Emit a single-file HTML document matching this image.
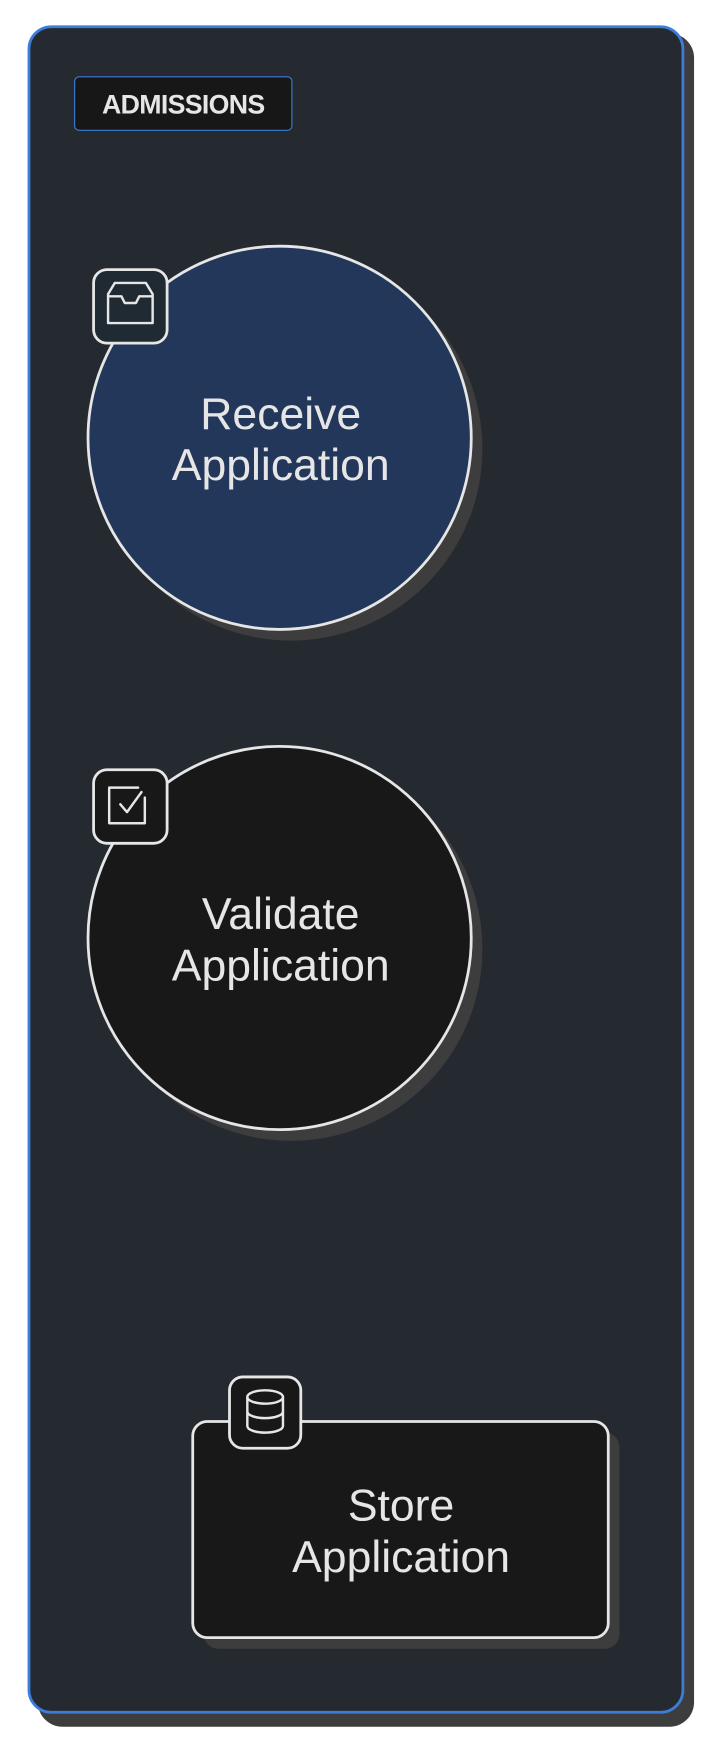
<!DOCTYPE html>
<html><head><meta charset="utf-8"><style>
html,body{margin:0;padding:0;background:#fff;width:713px;height:1743px;overflow:hidden}
svg{display:block}
text{font-family:"Liberation Sans",Arial,sans-serif;fill:#e6e6e6}
</style></head><body>
<svg width="713" height="1743" viewBox="0 0 640 1564.6" preserveAspectRatio="none" xmlns="http://www.w3.org/2000/svg">
<rect x="34" y="30" width="589" height="1520" rx="22" fill="#3d3d3d"/>
<rect x="26" y="24" width="587" height="1513" rx="20" fill="#252a31" stroke="#3b7dd8" stroke-width="2.5"/>
<rect x="67" y="69" width="195" height="48" rx="4" fill="#171717" stroke="#3b7dd8" stroke-width="1"/>
<text x="164.5" y="102" font-size="24" font-weight="bold" text-anchor="middle" fill="#f2f2f2" letter-spacing="-0.6">ADMISSIONS</text>

<circle cx="261" cy="403" r="172" fill="#3d3d3d"/>
<circle cx="251" cy="393" r="172" fill="#22375a" stroke="#e6e6e6" stroke-width="2.5"/>
<rect x="84" y="242" width="66" height="66" rx="12" fill="#1f2a33" stroke="#e6e6e6" stroke-width="2.5"/>
<g fill="none" stroke="#e6e6e6" stroke-width="2.2" stroke-linejoin="round">
<path d="M97 264 L103 254 L131 254 L137 264 L137 290 L97 290 Z"/>
<path d="M97 266 L109 266 L112 272 L122 272 L125 266 L137 266"/>
</g>
<text x="252" y="385" font-size="40" text-anchor="middle">Receive</text>
<text x="252" y="431" font-size="40" text-anchor="middle">Application</text>

<circle cx="261" cy="852" r="172" fill="#3d3d3d"/>
<circle cx="251" cy="842" r="172" fill="#181818" stroke="#e6e6e6" stroke-width="2.5"/>
<rect x="84" y="691" width="66" height="66" rx="12" fill="#181818" stroke="#e6e6e6" stroke-width="2.5"/>
<g fill="none" stroke="#e6e6e6" stroke-width="2.2" stroke-linejoin="round" stroke-linecap="round">
<path d="M130 716 L130 739 L98 739 L98 707 L124 707"/>
<path d="M108 722 L114 729 L127 711"/>
</g>
<text x="252" y="834" font-size="40" text-anchor="middle">Validate</text>
<text x="252" y="880" font-size="40" text-anchor="middle">Application</text>

<rect x="183" y="1286" width="373" height="194" rx="13" fill="#3d3d3d"/>
<rect x="173" y="1276" width="373" height="194" rx="13" fill="#181818" stroke="#e6e6e6" stroke-width="2.5"/>
<rect x="206" y="1236" width="64" height="64" rx="12" fill="#181818" stroke="#e6e6e6" stroke-width="2.5"/>
<g fill="none" stroke="#e6e6e6" stroke-width="2.2">
<ellipse cx="238" cy="1254" rx="16" ry="6"/>
<path d="M222 1254 L222 1280 A16 6 0 0 0 254 1280 L254 1254"/>
<path d="M222 1267 A16 6 0 0 0 254 1267"/>
</g>
<text x="360" y="1365" font-size="40" text-anchor="middle">Store</text>
<text x="360" y="1411" font-size="40" text-anchor="middle">Application</text>
</svg>
</body></html>
